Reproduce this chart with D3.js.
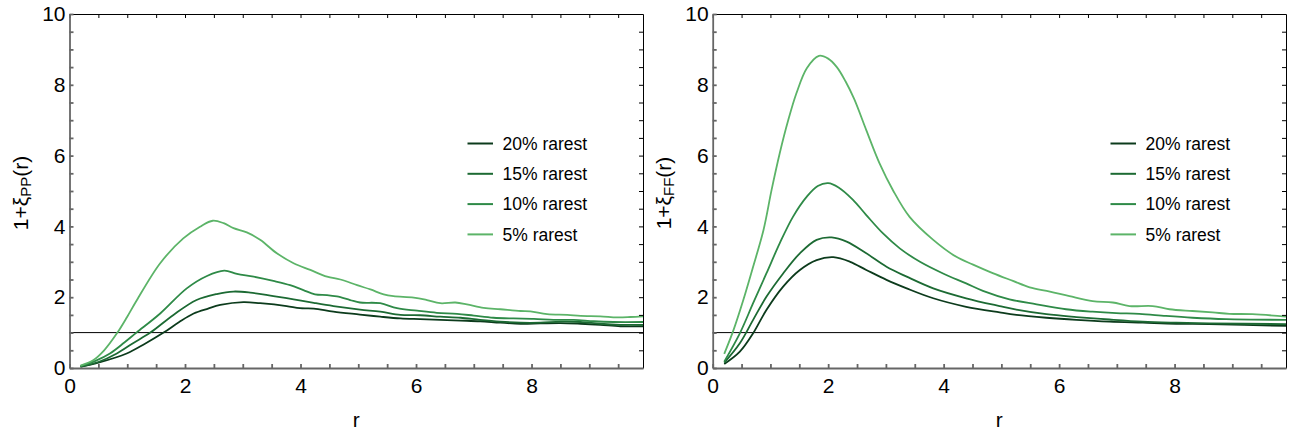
<html>
<script src="https://d3js.org/d3.v7.min.js"></script>
<style>
body{margin:0;background:#fff;}
svg{display:block;font-family:"Liberation Sans",Arial,sans-serif;}
</style>
<body>
<div class="chart"></div>
</body>
<script>
const W = 1294, H = 433;

// series names and colors (legend order)
const seriesNames = ['20% rarest', '15% rarest', '10% rarest', '5% rarest'];
const seriesColors = ['#0c3b1c', '#1c6a33', '#2e8a47', '#5cb468'];

// left panel, 1+xi_PP(r): [r, value]
const pp20 = [[0.19,0.03],[0.5,0.15],[0.99,0.41],[1.3,0.68],[1.63,1.0],[1.9,1.3],[2.15,1.54],[2.4,1.68],[2.61,1.78],[3.01,1.86],[3.3,1.83],[3.76,1.75],[3.99,1.69],[4.23,1.68],[4.57,1.59],[5.03,1.51],[5.38,1.45],[5.73,1.40],[6.07,1.38],[6.42,1.36],[6.77,1.34],[7.11,1.32],[7.46,1.28],[7.81,1.25],[8.15,1.26],[8.5,1.27],[8.85,1.25],[9.19,1.22],[9.54,1.18],[9.93,1.18]];
const pp15 = [[0.19,0.04],[0.5,0.17],[0.82,0.41],[1.1,0.7],[1.4,1.0],[1.8,1.50],[2.2,1.92],[2.55,2.09],[2.84,2.16],[3.13,2.13],[3.53,2.03],[3.88,1.94],[4.23,1.84],[4.57,1.75],[5.03,1.65],[5.38,1.59],[5.73,1.50],[6.07,1.49],[6.42,1.45],[6.77,1.42],[7.11,1.36],[7.46,1.31],[7.81,1.28],[8.15,1.28],[8.5,1.31],[8.85,1.30],[9.19,1.25],[9.54,1.22],[9.93,1.22]];
const pp10 = [[0.19,0.05],[0.45,0.2],[0.7,0.41],[0.95,0.72],[1.16,1.0],[1.57,1.54],[2.03,2.25],[2.38,2.60],[2.68,2.75],[2.9,2.66],[3.19,2.58],[3.53,2.46],[3.82,2.34],[4.05,2.20],[4.25,2.08],[4.46,2.06],[4.63,2.02],[4.86,1.92],[5.03,1.85],[5.38,1.83],[5.67,1.69],[6.02,1.62],[6.36,1.56],[6.71,1.53],[7.0,1.48],[7.34,1.42],[7.69,1.40],[8.04,1.39],[8.38,1.36],[8.73,1.36],[9.08,1.32],[9.42,1.30],[9.93,1.30]];
const pp5 = [[0.19,0.07],[0.41,0.22],[0.6,0.5],[0.83,1.0],[1.0,1.45],[1.16,1.9],[1.57,2.96],[1.97,3.66],[2.26,3.99],[2.48,4.16],[2.67,4.09],[2.84,3.95],[3.07,3.83],[3.3,3.62],[3.59,3.24],[3.88,2.96],[4.17,2.77],[4.46,2.58],[4.69,2.50],[4.98,2.34],[5.21,2.22],[5.44,2.08],[5.61,2.03],[5.96,1.99],[6.19,1.92],[6.42,1.83],[6.68,1.85],[6.88,1.80],[7.17,1.70],[7.46,1.66],[7.81,1.61],[7.98,1.60],[8.27,1.52],[8.62,1.50],[8.85,1.47],[9.19,1.46],[9.48,1.43],[9.71,1.44],[9.93,1.46]];

// right panel, 1+xi_FF(r)
const ff20 = [[0.2,0.11],[0.47,0.46],[0.7,0.98],[0.93,1.64],[1.22,2.30],[1.51,2.77],[1.8,3.05],[2.09,3.13],[2.38,3.00],[2.66,2.77],[3.01,2.49],[3.36,2.25],[3.82,1.97],[4.39,1.73],[4.97,1.57],[5.26,1.50],[5.78,1.42],[6.3,1.36],[6.87,1.31],[7.45,1.28],[8.03,1.25],[8.6,1.24],[9.93,1.19]];
const ff15 = [[0.2,0.15],[0.47,0.70],[0.7,1.36],[0.93,2.01],[1.22,2.67],[1.51,3.24],[1.8,3.62],[2.06,3.69],[2.32,3.57],[2.66,3.24],[3.01,2.86],[3.36,2.58],[3.82,2.25],[4.39,1.97],[4.97,1.75],[5.26,1.65],[5.78,1.52],[6.3,1.44],[6.87,1.37],[7.45,1.31],[8.03,1.28],[8.6,1.26],[9.93,1.24]];
const ff10 = [[0.2,0.18],[0.47,0.98],[0.7,1.83],[0.93,2.67],[1.16,3.52],[1.39,4.27],[1.63,4.84],[1.82,5.14],[2.0,5.22],[2.18,5.1],[2.43,4.75],[2.66,4.32],[2.95,3.80],[3.24,3.38],[3.59,3.00],[3.99,2.67],[4.39,2.39],[4.68,2.18],[5.14,1.94],[5.61,1.80],[6.12,1.66],[6.58,1.59],[6.99,1.55],[7.39,1.53],[7.85,1.47],[8.31,1.42],[8.89,1.38],[9.93,1.36]];
const ff5 = [[0.2,0.40],[0.36,1.07],[0.53,1.92],[0.7,2.86],[0.88,3.90],[1.02,5.03],[1.16,6.06],[1.31,7.01],[1.45,7.76],[1.63,8.47],[1.84,8.82],[2.0,8.74],[2.15,8.5],[2.3,8.1],[2.45,7.6],[2.66,6.72],[2.89,5.78],[3.12,5.03],[3.41,4.27],[3.82,3.62],[4.22,3.14],[4.51,2.92],[4.85,2.68],[5.2,2.46],[5.49,2.28],[5.84,2.16],[6.18,2.03],[6.58,1.89],[6.93,1.85],[7.22,1.75],[7.62,1.75],[7.91,1.66],[8.31,1.61],[8.66,1.57],[8.95,1.53],[9.35,1.52],[9.93,1.45]];

const xTicks = d3.range(0, 9.9, 0.5);
const yTicks = d3.range(0, 10.01, 0.5);
const xLabels = [0, 2, 4, 6, 8];
const yLabels = [0, 2, 4, 6, 8, 10];

const panels = [
  {left: 69.5, right: 643, sub: 'PP', series: [pp20, pp15, pp10, pp5]},
  {left: 712.7, right: 1286, sub: 'FF', series: [ff20, ff15, ff10, ff5]}
];
const plotTop = 14, plotBottom = 368;

const svg = d3.select('.chart').append('svg')
  .attr('width', W)
  .attr('height', H);

panels.forEach((p, i) => {
  const x = d3.scaleLinear().domain([0, 9.93]).range([p.left, p.right]);
  const y = d3.scaleLinear().domain([0, 10]).range([plotBottom, plotTop]);
  const g = svg.append('g');

  g.append('clipPath').attr('id', 'clip' + i)
    .append('rect')
      .attr('x', p.left).attr('y', plotTop)
      .attr('width', p.right - p.left).attr('height', plotBottom - plotTop);

  // reference line at 1
  g.append('line')
    .attr('x1', p.left).attr('x2', p.right)
    .attr('y1', y(1)).attr('y2', y(1))
    .attr('stroke', '#000').attr('stroke-width', 1);

  const line = d3.line()
    .curve(d3.curveCatmullRom.alpha(0.5))
    .x(d => x(d[0]))
    .y(d => y(d[1]));

  g.append('g').attr('clip-path', `url(#clip${i})`)
    .selectAll('path')
    .data(p.series)
    .enter()
    .append('path')
      .attr('d', d => line(d))
      .attr('fill', 'none')
      .attr('stroke', (d, j) => seriesColors[j])
      .attr('stroke-width', 1.8);

  // frame: top/right thin black, left/bottom grey
  g.append('g')
    .attr('transform', `translate(0,${plotTop})`)
    .call(d3.axisTop(x).tickValues(xTicks).tickSize(-4).tickSizeOuter(0).tickFormat(''))
    .call(a => a.selectAll('path,line').attr('stroke', '#000').attr('stroke-width', 1));
  g.append('g')
    .attr('transform', `translate(${p.right},0)`)
    .call(d3.axisRight(y).tickValues(yTicks).tickSize(-4).tickSizeOuter(0).tickFormat(''))
    .call(a => a.selectAll('path,line').attr('stroke', '#000').attr('stroke-width', 1));

  g.append('g')
    .attr('transform', `translate(0,${plotBottom})`)
    .call(d3.axisBottom(x).tickValues(xTicks).tickSize(-4).tickSizeOuter(0).tickPadding(10)
      .tickFormat(d => xLabels.includes(d) ? d : ''))
    .call(a => a.selectAll('path,line').attr('stroke', '#666').attr('stroke-width', 1.8))
    .call(a => a.selectAll('text').attr('fill', '#000').attr('font-size', 21)
      .attr('font-family', '"Liberation Sans",Arial,sans-serif'));
  g.append('g')
    .attr('transform', `translate(${p.left},0)`)
    .call(d3.axisLeft(y).tickValues(yTicks).tickSize(-4).tickSizeOuter(0).tickPadding(4)
      .tickFormat(d => yLabels.includes(d) ? d : ''))
    .call(a => a.selectAll('path,line').attr('stroke', '#666').attr('stroke-width', 1.8))
    .call(a => a.selectAll('text').attr('fill', '#000').attr('font-size', 21)
      .attr('font-family', '"Liberation Sans",Arial,sans-serif'));

  // axis titles
  g.append('text')
    .attr('x', (p.left + p.right) / 2)
    .attr('y', 427)
    .attr('text-anchor', 'middle')
    .attr('font-size', 21)
    .text('r');

  const yl = g.append('text')
    .attr('transform', `translate(${p.left - 42},${(plotTop + plotBottom) / 2 + 2}) rotate(-90)`)
    .attr('text-anchor', 'middle')
    .attr('font-size', 21);
  yl.append('tspan').text('1+ξ');
  yl.append('tspan').attr('font-size', 15).attr('dy', 3.5).text(p.sub);
  yl.append('tspan').attr('dy', -3.5).text('(r)');

  // legend
  const leg = g.append('g')
    .selectAll('g')
    .data(seriesNames)
    .enter()
    .append('g')
      .attr('transform', (d, j) => `translate(${p.right - 175.5},${143.5 + j * 30.3})`);
  leg.append('line')
    .attr('x1', 0).attr('x2', 25.5)
    .attr('stroke', (d, j) => seriesColors[j])
    .attr('stroke-width', 2);
  leg.append('text')
    .attr('x', 35)
    .attr('dy', '0.35em')
    .attr('font-size', 17.5)
    .text(d => d);
});
</script>
</html>
